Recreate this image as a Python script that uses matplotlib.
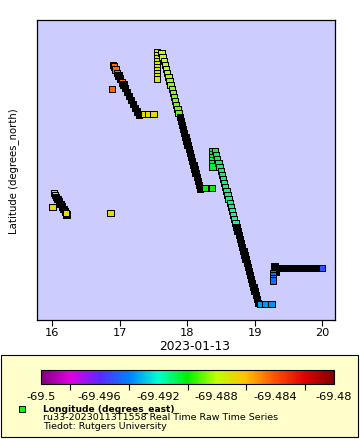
import numpy as np
import matplotlib
matplotlib.use("Agg")
import matplotlib.pyplot as plt
from matplotlib.colors import LinearSegmentedColormap, Normalize
from matplotlib.cm import ScalarMappable
from matplotlib.patches import Rectangle
from matplotlib.lines import Line2D
from matplotlib.ticker import FixedLocator

NA = np.nan  # no longitude fix -> drawn black

# time in hours of 2023-01-13, latitude (degrees_north), longitude (degrees_east)
leg1_time = [16.000, 16.025, 16.040, 16.055, 16.077, 16.099, 16.121, 16.144, 16.166, 16.188, 16.210, 16.207]
leg1_lat = [-64.7987, -64.7973, -64.7975, -64.7977, -64.7979, -64.79815, -64.7984, -64.79865,
            -64.7989, -64.79915, -64.79945, -64.7993]
leg1_lon = [-69.4868, -69.4866, -69.4867, NA, NA, NA, NA, NA, NA, NA, NA, -69.4869]

stray_time = [16.862, 16.884]
stray_lat = [-64.7993, -64.7869]
stray_lon = [-69.4868, -69.4843]

leg2_time = [16.899, 16.914, 16.936, 16.959, 16.981, 17.003, 17.033, 17.055, 17.077, 17.107,
             17.136, 17.166, 17.196, 17.225, 17.255, 17.284, 17.366, 17.418, 17.499]
leg2_lat = [-64.7845, -64.78465, -64.78495, -64.7853, -64.78555, -64.78585, -64.78625, -64.78645,
            -64.7868, -64.7872, -64.7876, -64.7880, -64.7884, -64.7888, -64.78915, -64.7895,
            -64.7894, -64.7894, -64.7894]
leg2_lon = [NA, -69.4844, -69.4845, -69.4845, NA, NA, -69.4846, NA, NA, NA, NA, NA, NA, NA, NA, NA,
            -69.4868, -69.4868, -69.4869]

leg3_time = [17.551] * 10 + [
    17.618, 17.634, 17.652, 17.668, 17.684, 17.702, 17.719, 17.736, 17.753, 17.769, 17.787, 17.803,
    17.819, 17.837, 17.853, 17.870, 17.887, 17.904, 17.921, 17.938, 17.954, 17.972, 17.988, 18.004,
    18.022, 18.038, 18.055, 18.073, 18.089, 18.107, 18.123, 18.139, 18.157, 18.173, 18.188,
    18.259, 18.361]
leg3_lat = [-64.7832, -64.7835, -64.7838, -64.7841, -64.7844, -64.7847, -64.7850, -64.7853, -64.7856, -64.7859,
            -64.7833, -64.7837, -64.7841, -64.7845, -64.7849, -64.7853, -64.7857, -64.7861, -64.7865,
            -64.7869, -64.7873, -64.7877, -64.7881, -64.7885, -64.7889, -64.7893, -64.7897, -64.7901,
            -64.7905, -64.7909, -64.7913, -64.7917, -64.7921, -64.7925, -64.7929, -64.7933, -64.7937,
            -64.7941, -64.7945, -64.7949, -64.7953, -64.7957, -64.7961, -64.7965, -64.79685,
            -64.7968, -64.7968]
leg3_lon = [-69.4874] * 10 + [
    -69.4879, -69.4880, -69.4880, -69.4881, -69.4882, -69.4882, -69.4883, -69.4884,
    -69.4885, -69.4885, -69.4886, -69.4887, -69.4887, -69.4888, -69.4888, -69.4889] + [NA] * 19 + [
    -69.4899, -69.4900]

leg4_time = [18.373] * 6 + [
    18.410, 18.427, 18.444, 18.461, 18.477, 18.495, 18.511, 18.527, 18.545, 18.561, 18.578, 18.594,
    18.612, 18.628, 18.644, 18.662, 18.679, 18.695, 18.713, 18.729, 18.745, 18.763, 18.779, 18.796,
    18.813, 18.830, 18.846, 18.864, 18.880, 18.896, 18.914, 18.930, 18.947, 18.963, 18.981, 18.997,
    19.013, 19.031, 19.047,
    19.084, 19.151, 19.247]
leg4_lat = [-64.7931, -64.7934, -64.7937, -64.7940, -64.7943, -64.79465,
            -64.7931, -64.7935, -64.7939, -64.7943, -64.7947, -64.7951, -64.7955, -64.7959, -64.7963,
            -64.7967, -64.7971, -64.7975, -64.7979, -64.7983, -64.7987, -64.7991, -64.7995, -64.7999,
            -64.8003, -64.8007, -64.8011, -64.8015, -64.8019, -64.8023, -64.8027, -64.8031, -64.8035,
            -64.8039, -64.8043, -64.8047, -64.8051, -64.8055, -64.8059, -64.8063, -64.8067, -64.8071,
            -64.8075, -64.8079, -64.8083,
            -64.8084, -64.8084, -64.8084]
leg4_lon = [-69.4905] * 6 + [
    -69.4907, -69.4908, -69.4908, -69.4909, -69.4909, -69.4910, -69.4910, -69.4911, -69.4911,
    -69.4912, -69.4912, -69.4913, -69.4913, -69.4914, -69.4914, -69.4915, -69.4915, -69.4916,
    -69.4916] + [NA] * 20 + [-69.4935, -69.4936, -69.4937]

leg5_time = [19.292, 19.299, 19.307, 19.270, 19.270, 19.270, 19.270,
             19.359, 19.418, 19.477, 19.536, 19.596, 19.655, 19.714, 19.773, 19.833, 19.892, 19.936,
             19.996]
leg5_lat = [-64.8046, -64.8049, -64.8052, -64.8053, -64.80555, -64.8058, -64.80605] + [-64.8048] * 12
leg5_lon = [NA, NA, NA, -69.4946, -69.4946, -69.4946, -69.4946] + [NA] * 11 + [-69.4950]

hour_ticks = [16, 17, 18, 19, 20]
lon_ticks = [-69.5, -69.496, -69.492, -69.488, -69.484, -69.48]
lon_minor = [-69.498, -69.494, -69.490, -69.486, -69.482]

time_h = np.array(leg1_time + stray_time + leg2_time + leg3_time + leg4_time + leg5_time)
lat = np.array(leg1_lat + stray_lat + leg2_lat + leg3_lat + leg4_lat + leg5_lat)
lon = np.array(leg1_lon + stray_lon + leg2_lon + leg3_lon + leg4_lon + leg5_lon)

W, H = 360, 440


def fx(px):
    return px / W


def fy(py):
    return 1 - py / H


palette = ["#800080", "#e000e0", "#5a28ff", "#0080ff", "#00ffd0", "#00f000",
           "#c0ff00", "#ffc000", "#ff5000", "#e00000", "#800000"]
cmap = LinearSegmentedColormap.from_list("rainbow2", palette).with_extremes(bad="black")
norm = Normalize(vmin=-69.5, vmax=-69.48)

fig = plt.figure(figsize=(W / 100, H / 100), dpi=100, facecolor="white")

ax = fig.add_axes([fx(37), fy(320), 298 / W, 300 / H])
ax.set_facecolor("#ccccff")
ax.scatter(time_h, lat, c=lon, cmap=cmap, norm=norm, marker="s", s=21,
           edgecolors="black", linewidths=0.72, plotnonfinite=True, zorder=3)
ax.set_xlim(15.773, 20.188)
ax.set_ylim(-64.81, -64.78)
ax.set_xticks(hour_ticks)
ax.set_xticklabels([str(h) for h in hour_ticks])
ax.set_yticks([])
ax.tick_params(axis="x", direction="out", length=4, width=0.8, labelsize=8.2, pad=2)
for spine in ax.spines.values():
    spine.set_linewidth(0.9)

fig.text(fx(195), fy(346), "2023-01-13", ha="center", va="center", fontsize=8.8)
fig.text(fx(13.7), fy(171), "Latitude (degrees_north)", rotation=90,
         ha="center", va="center", fontsize=7.3)

# legend box
fig.add_artist(Rectangle((fx(1), fy(437)), 357 / W, 82 / H, transform=fig.transFigure,
                         facecolor="#ffffcc", edgecolor="black", linewidth=0.8, zorder=-1))

cax = fig.add_axes([fx(41), fy(384), 293 / W, 14 / H])
cb = fig.colorbar(ScalarMappable(norm=norm, cmap=cmap), cax=cax, orientation="horizontal")
cb.set_ticks(lon_ticks)
cb.set_ticklabels(["%g" % v for v in lon_ticks])
cax.xaxis.set_minor_locator(FixedLocator(lon_minor))
cax.tick_params(which="major", length=0, pad=6, labelsize=8.2)
cax.tick_params(which="minor", length=4.5, width=0.8, direction="out")
cb.outline.set_linewidth(0.8)

fig.add_artist(Line2D([fx(21.7)], [fy(409)], marker="s", markersize=3.8, linestyle="none",
                      markerfacecolor="#00ff00", markeredgecolor="black", markeredgewidth=0.72,
                      transform=fig.transFigure))
fig.text(fx(43), fy(411.5), "Longitude (degrees_east)", fontsize=6.6, fontweight="bold", va="baseline")
fig.text(fx(43), fy(420), "ru33-20230113T1558 Real Time Raw Time Series", fontsize=6.8, va="baseline")
fig.text(fx(43), fy(428.5), "Tiedot: Rutgers University", fontsize=6.8, va="baseline")

fig.savefig("out.png", dpi=100)
